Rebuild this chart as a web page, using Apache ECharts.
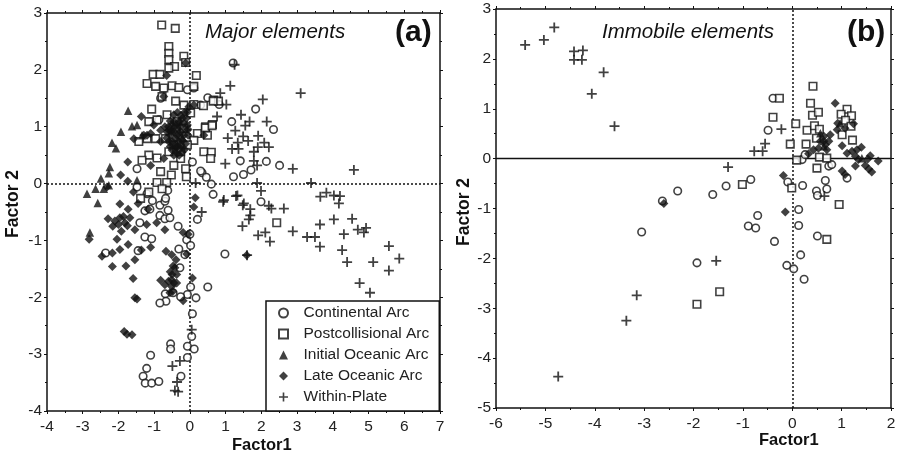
<!DOCTYPE html>
<html><head><meta charset="utf-8">
<style>html,body{margin:0;padding:0;background:#fff}#c{width:899px;height:455px}</style>
<script src="https://cdn.jsdelivr.net/npm/echarts@6/dist/echarts.min.js"></script>
</head><body><div id="c"></div>
<script>
const seriesNames=['Continental Arc','Postcollisional Arc','Initial Oceanic Arc','Late Oceanic Arc','Within-Plate'];
const majorContinental=[[-2.36,-1.22],[-1.45,-1.18],[-1.26,-.94],[-1.07,-.97],[-1.4,-.69],[-1.26,-.48],[-1.12,-.45],[-.84,-.56],[-.7,-.62],[-.56,-.6],[-.61,-.47],[-.84,-.38],[-.7,-.31],[-.33,-.75],[-.09,-.99],[.02,-1.09],[-.31,-1.15],[-.14,-1.25],[0,-.89],[.21,-.63],[.98,-1.24],[-.28,-1.48],[.02,-1.82],[.5,-1.82],[-.07,-1.95],[.17,-2.01],[-.26,-1.99],[-.69,-1.94],[-.47,-1.92],[-.67,-2.07],[-.84,-2.1],[.07,-2.29],[.05,-2.69],[-.07,-2.86],[.12,-2.91],[-.54,-2.82],[-.54,-2.91],[-.07,-3.06],[-1.1,-3.02],[-1.21,-3.25],[-1.31,-3.39],[-1.25,-3.51],[-1.07,-3.51],[-.87,-3.48],[-.25,-3.39],[1.21,2.12],[.5,1.51],[.82,1.39],[1.84,1.31],[1.17,1.09],[2.34,.95],[1.41,.4],[2.14,.39],[2.51,.32],[1.71,.24],[1.5,.16],[1.22,.12],[.34,.19],[.46,.11],[.6,-.01],[.65,-.19],[1.99,-.32],[.07,.38],[.3,.22],[.11,1.68],[-.07,1.65],[-1.48,.26],[-1.48,-.06],[-.68,-.26],[-.87,1.12],[-.82,1.5],[.3,1.38],[-.62,-.12],[-1.05,-.3],[-1.2,-.18]];
const majorPostcollisional=[[-.79,2.79],[-.41,2.73],[-.59,2.41],[-.59,2.29],[-.59,2.18],[-.43,2.06],[-.59,2.03],[-.17,2.24],[-.12,2.13],[-1.03,1.92],[-.84,1.92],[.18,1.9],[-1.2,1.76],[-.96,1.71],[-.5,1.72],[-.31,1.69],[-.73,1.68],[.11,1.71],[-.78,1.53],[-.4,1.45],[-.17,1.38],[.11,1.39],[.67,1.47],[-1.07,1.31],[-.92,1.12],[-.64,1.21],[-1.15,1.09],[.63,1.04],[.44,1],[.49,.85],[.21,.88],[.11,.76],[-1.2,.79],[-.96,.79],[-.68,.79],[-1.43,.74],[-1.15,.5],[-1.34,.41],[-.92,.45],[.39,.56],[.6,.55],[.58,.44],[-.26,.44],[-.45,.32],[-.12,.26],[-.82,.21],[-.52,.15],[-.1,.12],[-.92,.02],[-.65,.02],[-.78,-.09],[-1.15,-.15],[-1.38,-.26],[-.36,1.09],[-.17,.97],[-.45,.68],[-.07,.68],[-.26,.56],[-.59,.56],[.02,1.24],[.8,1.45],[.65,1.45],[.38,1.37],[2.43,-.69],[.43,.98],[.62,1.02]];
const majorInitial=[[-1.73,1.28],[-1.62,1.01],[-1.93,.91],[-2.18,.72],[-2.07,.62],[-2.24,.29],[-2.27,.18],[-2.49,.09],[-1.48,.06],[-2.64,-.09],[-2.88,-.18],[-2.41,-.09],[-2.58,-.34],[-2.27,-.03],[-1.48,1.03],[-1.34,.85],[-2.8,-.86],[-.5,.95],[-.3,1.1],[-.2,.8],[-.4,.6]];
const majorLate=[[-1.36,1.18],[-1.57,.79],[-1.74,.38],[-1.94,.15],[-1.74,.04],[-2.32,-.06],[-1.1,.32],[-1.29,.85],[-1.1,.88],[-.82,.94],[-.5,1.03],[-.36,.97],[-.26,.91],[-.17,.85],[-.54,.85],[-.4,.79],[-.31,.74],[-.45,.68],[-.59,.74],[-.26,.62],[-.5,.59],[-.36,.53],[-.21,1.15],[-.07,1.26],[-.45,1.21],[.11,1.38],[-.03,1.35],[-.12,2.12],[-.65,1.9],[-.73,1.53],[-1.01,1.03],[-1.2,.85],[-.82,.74],[-.64,.91],[-.73,.44],[.39,.85],[-.45,1.09],[-.31,1.09],[-.17,1.06],[-.36,.85],[-.21,.76],[-.45,.91],[-.59,.94],[-.5,.74],[-.4,.65],[-.07,1.03],[-.28,1],[-.12,.95],[-.22,.55],[-.55,1.1],[-.6,1],[-.1,1.15],[-.05,.85],[-.12,.7],[-.3,.85],[-.35,.65],[-.55,.65],[-.15,.6],[-.25,1.2],[-.35,1.25],[-.05,.95],[-.65,.8],[-.7,1],[-.45,.5],[-.3,.5],[-.15,1.25],[-.25,.68],[-.4,1.02],[-.52,.92],[-1.96,-.36],[-2.29,-.62],[-2.1,-.66],[-1.96,-.6],[-1.82,-.69],[-1.92,-.84],[-1.73,-.45],[-1.68,-.6],[-1.54,-.81],[-2.16,-.75],[-2.04,-.98],[-1.96,-1.16],[-1.73,-1.07],[-2.17,-1.22],[-2.46,-1.28],[-1.54,-1.34],[-2.17,-1.46],[-1.79,-1.45],[-1.59,-1.67],[-1.36,-1.17],[-1.1,-1.12],[-.93,-.69],[-.7,-.81],[-1.17,-.45],[-1.21,-.72],[-1.54,-2.01],[-1.48,-2.03],[-1.84,-2.6],[-1.76,-2.65],[-1.62,-2.66],[-2.82,-.98],[-.67,-1.19],[-.51,-1.25],[-.09,-1.24],[-.19,-.86],[-.05,-.89],[-.39,-1.34],[-.47,-1.45],[-.37,-1.6],[-.51,-1.69],[-.82,-1.7],[-.7,-1.78],[-.51,-1.81],[-.37,-1.75],[.07,-1.66],[-.19,-2.06],[.11,-.41],[-.56,-1.92],[-.42,-1.48],[1.59,-1.26],[.15,-.25],[-1.45,-.35],[-1.58,-.15],[-.5,-1.6],[-.45,-1.75],[-.55,-1.55],[-.48,-1.9],[-.6,-1.72],[-2,-.72],[-1.86,-.58],[-1.75,-.74]];
const majorWithin=[[1.25,2.09],[1.13,1.72],[.85,1.59],[1.02,1.39],[2.04,1.48],[3.1,1.59],[1.43,1.21],[1.67,1.09],[1.55,1.02],[.76,1.18],[2.15,1.09],[1.27,.93],[1.91,.84],[1.06,.8],[1.49,.83],[1.63,.75],[2.08,.72],[2.21,.64],[1.34,.72],[1.18,.61],[1.36,.61],[1.79,.56],[1.9,.64],[.99,.35],[1.88,.32],[2.88,.26],[4.59,.24],[1.88,.01],[3.39,.01],[1.99,-.13],[1.29,-.22],[.93,-.32],[1.48,-.38],[2.21,-.39],[2.28,-.44],[2.63,-.44],[1.69,-.45],[1.69,-.56],[1.65,-.63],[1.47,-.75],[1.91,-.91],[2.11,-.86],[2.24,-1.02],[2.88,-.84],[3.28,-.94],[3.5,-.94],[3.64,-.72],[3.64,-1.11],[4.03,-.63],[3.82,-.16],[3.65,-.23],[4.03,-.21],[4.2,-.22],[4.17,-.35],[4.54,-.62],[4.7,-.81],[4.93,-.78],[4.87,-.86],[4.31,-.89],[4.26,-1.17],[4.4,-1.38],[5.13,-1.38],[5.57,-1.1],[5.86,-1.32],[5.57,-1.53],[4.75,-1.75],[5.04,-1.92],[1.6,-1.26],[.33,-.5],[-.28,-3.12],[-.49,-3.21],[-.36,-3.49],[-.42,-3.64],[-.33,-3.66],[.05,-2.57],[.16,.01],[.95,-.29],[1.33,-.21],[1.51,-.35],[1.79,.4]];
const immobileContinental=[[-3.05,-1.47],[-2.32,-.65],[-2.63,-.85],[-1.61,-.72],[-1.34,-.55],[-.84,-.42],[-.09,-.47],[.21,-.54],[.67,-.44],[.49,-.65],[.7,-.61],[.51,-.74],[.13,-1.02],[-.7,-1.14],[-.89,-1.35],[-.74,-1.39],[.13,-1.34],[-.36,-1.66],[.51,-1.55],[.17,-1.93],[-1.93,-2.09],[-.11,-2.14],[.03,-2.21],[.24,-2.42],[.2,-.02],[.74,-.15],[.8,-.12],[.26,.08],[-.39,1.21],[-.49,.57],[1.11,-.39]];
const immobilePostcollisional=[[.42,1.45],[.37,1.11],[.41,.87],[.53,.93],[-.26,1.21],[-.39,.83],[.07,.7],[.3,.57],[.45,.66],[.55,.59],[-.04,.29],[.28,.29],[1.11,.99],[.99,.89],[1.2,.86],[1.08,.77],[1.19,.65],[1.01,.48],[1.22,.37],[.49,.41],[.09,-.03],[.55,.03],[.7,.01],[.5,-.19],[-1.01,-.52],[-.01,-.59],[.95,-.92],[.7,-1.62],[-1.47,-2.67],[-1.93,-2.92]];
const immobileInitial=[[.97,.71],[.64,.25],[1.41,.01],[.57,.51]];
const immobileLate=[[.87,1.11],[.92,.71],[1.24,.7],[1.07,.61],[.91,.58],[.77,.48],[.64,.45],[.57,.35],[.67,.28],[.7,.18],[.53,.21],[.43,.18],[.33,.1],[1.01,.26],[1.11,.11],[1.21,.15],[1.31,.18],[1.4,.23],[1.28,.05],[1.34,-.02],[1.28,-.15],[1.58,.06],[1.53,-.01],[1.74,-.05],[1.48,-.14],[1.55,-.21],[1.61,-.27],[1.01,-.25],[1.07,-.32],[-.18,-.34],[-.14,-1.07],[.64,.35],[.74,.35],[-2.6,-.9]];
const immobileWithin=[[-5.41,2.28],[-5.03,2.38],[-4.82,2.63],[-4.42,2.15],[-4.24,2.17],[-4.42,1.98],[-4.26,1.98],[-3.82,1.73],[-4.06,1.3],[-3.6,.65],[-1.3,-.17],[.65,-.75],[-1.54,-2.05],[-3.15,-2.74],[-3.36,-3.25],[-4.74,-4.37],[-.22,.59],[-.55,.3],[-.77,.15],[-.6,.15]];
const ink='#111';
const plus='path://M4.1,0h1.8v4.1h4.1v1.8h-4.1v4.1h-1.8v-4.1h-4.1v-1.8h4.1z';
const styles=[
 {symbol:'circle',symbolSize:7.5,itemStyle:{color:'#fff',borderColor:ink,borderWidth:1.6}},
 {symbol:'rect',symbolSize:7.5,itemStyle:{color:'#fff',borderColor:ink,borderWidth:1.6}},
 {symbol:'triangle',symbolSize:8.5,itemStyle:{color:ink}},
 {symbol:'diamond',symbolSize:9,itemStyle:{color:ink}},
 {symbol:plus,symbolSize:10,itemStyle:{color:ink}}];
function mkSeries(arrs,idx,lines){
 return arrs.map((d,i)=>Object.assign({type:'scatter',name:seriesNames[i],xAxisIndex:idx*2,yAxisIndex:idx*2,data:d,silent:true,animation:false,z:2+i},styles[i],
  i===0?{markLine:{silent:true,symbol:['none','none'],animation:false,label:{show:false},z:1,data:lines}}:{}));
}
const xLabel={color:'#222',fontSize:15.5,margin:8,fontFamily:'Liberation Sans'};
const yLabel={color:'#222',fontSize:15.5,margin:5,fontFamily:'Liberation Sans'};
function axisBase(g,min,max){
 return {type:'value',gridIndex:g,min,max,interval:1,splitLine:{show:false},axisLine:{onZero:false,lineStyle:{color:ink,width:1.5}},
  axisTick:{length:3,lineStyle:{color:ink}},minorTick:{show:true,splitNumber:2,length:2,lineStyle:{color:ink}}};
}
function xAxes(g,min,max){
 return [Object.assign(axisBase(g,min,max),{position:'bottom',axisLabel:xLabel}),
  Object.assign(axisBase(g,min,max),{position:'top',axisLabel:{show:false}})];
}
function yAxes(g,min,max){
 return [Object.assign(axisBase(g,min,max),{position:'left',axisLabel:yLabel}),
  Object.assign(axisBase(g,min,max),{position:'right',axisLabel:{show:false}})];
}
const dotted={color:ink,width:1.5,type:[2,2]};
const solid={color:ink,width:1.3,type:'solid'};
const chart=echarts.init(document.getElementById('c'),null,{renderer:'canvas'});
const F='Liberation Sans';
function txt(text,left,top,size,weight,style){return {text,left,top,padding:0,textStyle:{fontFamily:F,fontSize:size,fontWeight:weight,fontStyle:style,color:'#111'}};}
chart.setOption({
 backgroundColor:'#fff',animation:false,
 title:[txt('Major elements',205,22,20.5,'normal','italic'),txt('(a)',395,18,30,'bold','normal'),
        txt('Immobile elements',602,22,20.5,'normal','italic'),txt('(b)',847,18,30,'bold','normal'),
        txt('Factor1',232,437,16.5,'bold','normal'),txt('Factor1',759,432,16.5,'bold','normal')],
 graphic:[
  {type:'text',rotation:Math.PI/2,x:4,y:238,style:{text:'Factor 2',font:'bold 17.5px "Liberation Sans"',fill:'#111'},silent:true},
  {type:'text',rotation:Math.PI/2,x:455,y:246,style:{text:'Factor 2',font:'bold 17.5px "Liberation Sans"',fill:'#111'},silent:true}
 ],
 grid:[{left:47,top:13,width:393,height:398},{left:496,top:9,width:395,height:399}],
 xAxis:[...xAxes(0,-4,7),...xAxes(1,-6,2)],
 yAxis:[...yAxes(0,-4,3),...yAxes(1,-5,3)],
 legend:{data:seriesNames,orient:'vertical',left:266,top:301,itemWidth:9,itemHeight:9,itemGap:5,selectedMode:false,
  padding:[4,10,6,12],backgroundColor:'#fff',borderColor:ink,borderWidth:1.5,borderRadius:0,
  textStyle:{fontFamily:F,fontSize:15.5,color:'#222',lineHeight:14,padding:[0,0,0,10.5]},z:10},
 series:[...mkSeries([majorContinental,majorPostcollisional,majorInitial,majorLate,majorWithin],0,
   [{xAxis:0,lineStyle:dotted},{yAxis:0,lineStyle:dotted}]),
  ...mkSeries([immobileContinental,immobilePostcollisional,immobileInitial,immobileLate,immobileWithin],1,
   [{xAxis:0,lineStyle:dotted},{yAxis:0,lineStyle:solid}])]
});
</script></body></html>
